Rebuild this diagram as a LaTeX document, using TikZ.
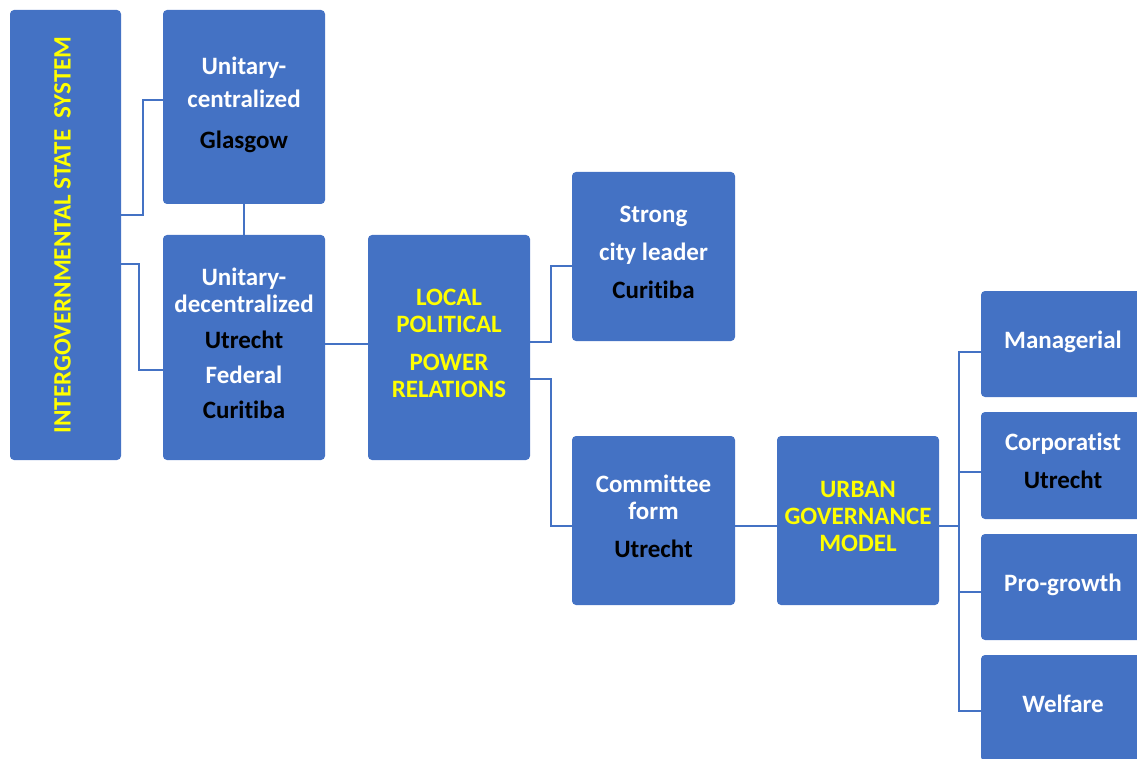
\documentclass[tikz,border=0pt]{standalone}
\usepackage{fontspec}
\usepackage{graphicx}
\setmainfont{Carlito}[Ligatures=NoCommon]
\definecolor{boxblue}{HTML}{4472C4}
\definecolor{hiyellow}{HTML}{FFFF00}
\newcommand{\city}[1]{\textcolor{black}{#1}}
\newcommand{\lowstrut}{\rule[-9pt]{0pt}{1pt}}
\tikzset{
  plain/.style={fill=boxblue, rounded corners=4pt, inner sep=0pt, align=center,
    text=white, font=\bfseries\fontsize{25}{27}\selectfont},
  box/.style={plain},
  head/.style={box, text=hiyellow},
  link/.style={draw=boxblue, line width=2pt},
}
\begin{document}
\begin{tikzpicture}[x=1pt,y=-1pt]
\clip (0,0) rectangle (1137,759);
% boxes
\node[plain,text=hiyellow,minimum width=111,minimum height=450] (iss) at (65.5,235)
  {\rotatebox{90}{INTERGOVERNMENTAL STATE\ \ SYSTEM}\hspace{6pt}};
\node[box,minimum width=162,minimum height=194] (uc) at (244,107)
  {Unitary-\\[6pt]centralized\\[14pt]\city{Glasgow}\lowstrut};
\node[box,minimum width=162,minimum height=225] (ud) at (244,347.5)
  {Unitary-\\decentralized\\[9pt]\city{Utrecht}\\[8pt]Federal\\[8pt]\city{Curitiba}\lowstrut};
\node[head,minimum width=162,minimum height=225] (lppr) at (449,347.5)
  {LOCAL\\POLITICAL\\[11pt]POWER\\RELATIONS\lowstrut};
\node[box,minimum width=163,minimum height=169] (scl) at (653.5,256.5)
  {Strong\\[11pt]city leader\\[11pt]\city{Curitiba}\lowstrut};
\node[box,minimum width=163,minimum height=169] (cf) at (653.5,520.5)
  {Committee\\form\\[11pt]\city{Utrecht}\lowstrut};
\node[head,minimum width=162,minimum height=169] (ugm) at (858,520.5)
  {URBAN\\GOVERNANCE\\MODEL\lowstrut};
\node[box,minimum width=164,minimum height=106] (mgr) at (1063,344) {Managerial\lowstrut};
\node[box,minimum width=164,minimum height=107] (corp) at (1063,465.5)
  {Corporatist\\[11pt]\city{Utrecht}\lowstrut};
\node[box,minimum width=164,minimum height=106] (grow) at (1063,587) {Pro-growth\lowstrut};
\node[box,minimum width=164,minimum height=106] (welf) at (1063,708) {Welfare\lowstrut};
% connectors
\draw[link] ([yshift=20pt]iss.east) -- ++(22,0) |- ([yshift=7pt]uc.west);
\draw[link] ([yshift=-29pt]iss.east) -- ++(18,0) |- ([yshift=-22.5pt]ud.west);
\draw[link] (uc) -- (ud);
\draw[link] ([yshift=4pt]ud.east) -- ([yshift=4pt]lppr.west);
\draw[link] ([yshift=6pt]lppr.east) -- ++(21,0) |- ([yshift=-9.5pt]scl.west);
\draw[link] ([yshift=-31.5pt]lppr.east) -- ++(21,0) |- ([yshift=-5.5pt]cf.west);
\draw[link] ([yshift=-5.5pt]cf.east) -- ([yshift=-5.5pt]ugm.west);
\draw[link] ([yshift=-5.5pt]ugm.east) -- ++(20,0) coordinate (hub);
\foreach \n/\s in {mgr/-8,corp/-6.5,grow/-5,welf/-3}
  \draw[link] (hub) |- ([yshift=\s pt]\n.west);
\end{tikzpicture}
\end{document}
